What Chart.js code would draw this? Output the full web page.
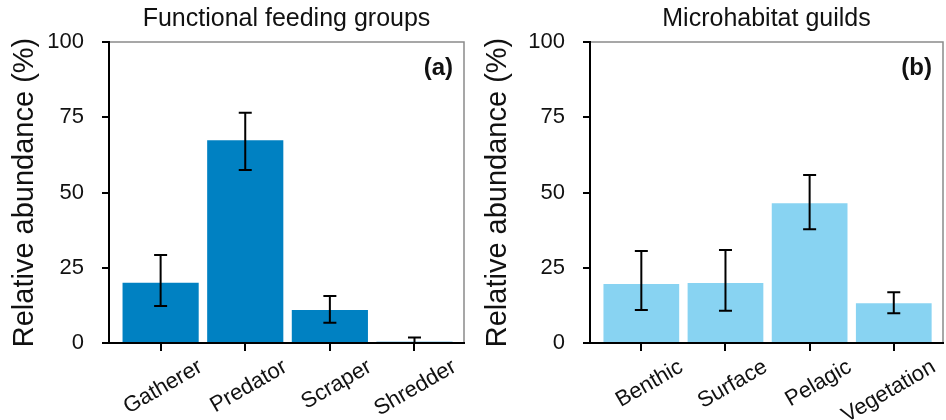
<!DOCTYPE html>
<html>
<head>
<meta charset="utf-8">
<script src="https://cdn.jsdelivr.net/npm/chart.js@4.4.1/dist/chart.umd.min.js"></script>
<style>
    body { margin: 0; background: #fff; }
    .panel { position: absolute; top: 0; width: 473px; height: 420px; }
</style>
</head>
<body>
<div class="panel" style="left:0"><canvas id="feedingChart" width="473" height="420"></canvas></div>
<div class="panel" style="left:473px"><canvas id="habitatChart" width="473" height="420"></canvas></div>
<script>
// Values (%)
const feedingLabels = ['Gatherer', 'Predator', 'Scraper', 'Shredder'];
const feedingMeans = [20.0, 67.4, 11.0, 0.4];
const feedingLower = [12.3, 57.5, 6.7, 0];
const feedingUpper = [29.2, 76.5, 15.6, 1.8];

const habitatLabels = ['Benthic', 'Surface', 'Pelagic', 'Vegetation'];
const habitatMeans = [19.6, 19.9, 46.4, 13.2];
const habitatLower = [11.0, 10.7, 37.8, 9.9];
const habitatUpper = [30.6, 30.9, 55.8, 16.9];

const yTicks = [0, 25, 50, 75, 100];

const FONT = '"Liberation Sans", Arial, Helvetica, sans-serif';
Chart.defaults.font.family = FONT;
Chart.defaults.color = '#111';

// Gray frame, error bars and panel letter
const extras = {
    id: 'extras',
    beforeDatasetsDraw(chart) {
        const { ctx, chartArea: a } = chart;
        ctx.save();
        ctx.strokeStyle = '#8a8a8a';
        ctx.lineWidth = 1.5;
        ctx.strokeRect(a.left, a.top, a.right - a.left, a.bottom - a.top);
        ctx.restore();
    },
    afterDatasetsDraw(chart, args, opts) {
        const { ctx, chartArea: a } = chart;
        const y = chart.scales.y;
        const bars = chart.getDatasetMeta(0).data;
        ctx.save();
        ctx.strokeStyle = '#000';
        ctx.lineWidth = 2;
        bars.forEach((bar, i) => {
            const top = y.getPixelForValue(opts.upper[i]);
            const bot = y.getPixelForValue(opts.lower[i]);
            ctx.beginPath();
            ctx.moveTo(bar.x, top); ctx.lineTo(bar.x, bot);
            ctx.moveTo(bar.x - 6.5, top); ctx.lineTo(bar.x + 6.5, top);
            ctx.moveTo(bar.x - 6.5, bot); ctx.lineTo(bar.x + 6.5, bot);
            ctx.stroke();
        });
        ctx.fillStyle = '#111';
        ctx.font = 'bold 24px ' + FONT;
        ctx.textAlign = 'right';
        ctx.textBaseline = 'middle';
        ctx.fillText(opts.letter, a.right - 11, a.top + 26);
        ctx.restore();
    }
};

function makeChart(id, title, labels, means, lower, upper, color, letter, yWidth, rightPad) {
    return new Chart(document.getElementById(id), {
        type: 'bar',
        data: {
            datasets: [{
                data: means.map((v, i) => ({ x: i, y: v })),
                backgroundColor: color,
                borderWidth: 0,
                barPercentage: 0.9,
                categoryPercentage: 1
            }]
        },
        options: {
            responsive: false,
            animation: false,
            layout: { padding: { top: 0, left: 0, right: rightPad, bottom: 0 } },
            plugins: {
                legend: { display: false },
                tooltip: { enabled: false },
                title: {
                    display: true,
                    text: title,
                    fullSize: false,
                    color: '#111',
                    font: { size: 25, weight: 'normal' },
                    padding: { top: 4, bottom: 8 }
                },
                extras: { lower: lower, upper: upper, letter: letter }
            },
            scales: {
                x: {
                    type: 'linear',
                    offset: false,
                    min: -0.61,
                    max: 3.585,
                    afterBuildTicks: (scale) => { scale.ticks = labels.map((_, i) => ({ value: i })); },
                    afterFit: (scale) => { scale.height = 77; },
                    grid: { offset: false, drawOnChartArea: false, drawTicks: true, tickLength: 8, color: '#000', lineWidth: 2 },
                    border: { display: true, color: '#000', width: 2, z: 1 },
                    ticks: {
                        minRotation: 30,
                        maxRotation: 30,
                        labelOffset: 40,
                        padding: 3,
                        color: '#111',
                        font: { size: 22 },
                        callback: (v, i) => labels[i]
                    }
                },
                y: {
                    min: 0,
                    max: 100,
                    afterBuildTicks: (scale) => { scale.ticks = yTicks.map(v => ({ value: v })); },
                    afterFit: (scale) => { scale.width = yWidth; },
                    grid: { drawOnChartArea: false, drawTicks: true, tickLength: 7, color: '#000', lineWidth: 2 },
                    border: { display: true, color: '#000', width: 2, z: 1 },
                    ticks: { padding: 18, color: '#111', font: { size: 22 } },
                    title: {
                        display: true,
                        text: 'Relative abundance (%)',
                        color: '#111',
                        font: { size: 29 },
                        padding: { top: 8, bottom: 0 }
                    }
                }
            }
        },
        plugins: [extras]
    });
}

makeChart('feedingChart', 'Functional feeding groups', feedingLabels, feedingMeans,
    feedingLower, feedingUpper, '#0081C2', '(a)', 109, 9);
makeChart('habitatChart', 'Microhabitat guilds', habitatLabels, habitatMeans,
    habitatLower, habitatUpper, '#88D3F2', '(b)', 117, 3);
</script>
</body>
</html>
